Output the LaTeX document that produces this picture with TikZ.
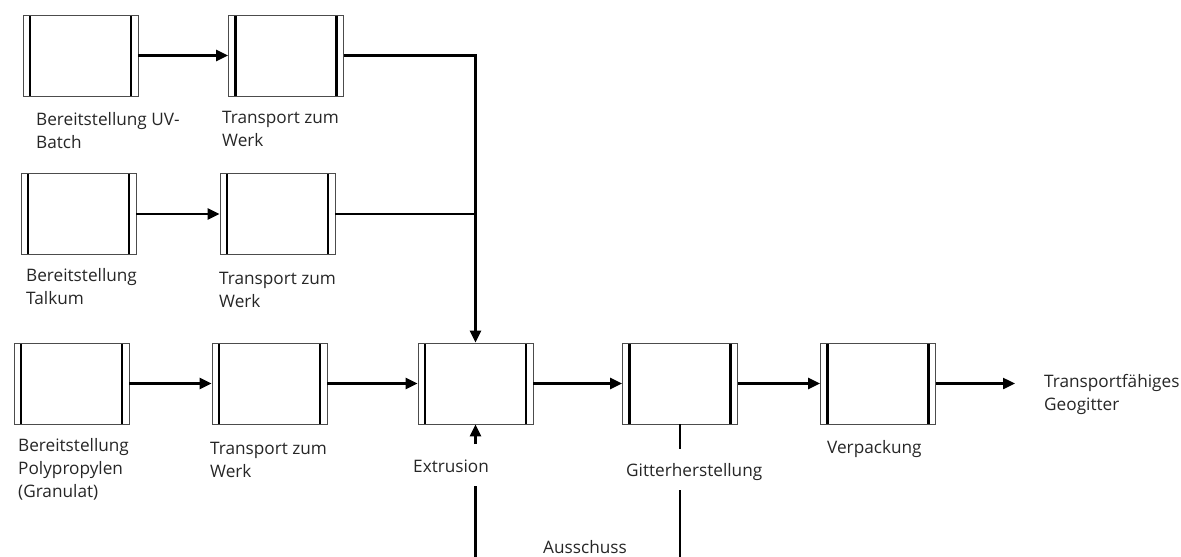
\documentclass[tikz,border=0pt]{standalone}
\usepackage{fontspec}
\setmainfont{Open Sans}
\usetikzlibrary{arrows.meta}
\tikzset{
  procbox/.style={rectangle, draw=black!70, line width=0.8pt, minimum width=115pt, minimum height=81pt, inner sep=0pt,
    path picture={
      \draw[line width=2.2pt,black] ([xshift=7pt]path picture bounding box.north west) -- ([xshift=7pt]path picture bounding box.south west);
      \draw[line width=2.2pt,black] ([xshift=-7pt]path picture bounding box.north east) -- ([xshift=-7pt]path picture bounding box.south east);
    }},
  lbl/.style={anchor=base west, align=left, inner sep=0pt, font=\fontsize{17.2}{23}\selectfont, text=black!85},
  conn/.style={line width=2.4pt, black},
  arr/.style={conn, -{Triangle[length=12pt,width=11pt]}}
}
\begin{document}
\begin{tikzpicture}[x=1pt,y=-1pt]
\useasboundingbox (0,0) rectangle (1181,557);
% boxes
\node[procbox] (b1) at (80.5,55.5) {};
\node[procbox] (b2) at (286,55.5) {};
\node[procbox] (b3) at (78.5,214) {};
\node[procbox] (b4) at (277.5,214) {};
\node[procbox] (b5) at (71.5,383.5) {};
\node[procbox] (b6) at (269.5,383.5) {};
\node[procbox] (ext) at (475.5,383.5) {};
\node[procbox] (git) at (680,383.5) {};
\node[procbox] (ver) at (878,383.5) {};
% labels (base = last line)
\node[lbl] (l1) at (36,148) {Bereitstellung UV-\\Batch};
\node[lbl] (l2) at (222,146) {Transport zum\\Werk};
\node[lbl] (l3) at (26,304) {Bereitstellung\\Talkum};
\node[lbl] (l4) at (219,307) {Transport zum\\Werk};
\node[lbl] (l5) at (18,497) {Bereitstellung\\Polypropylen\\(Granulat)};
\node[lbl] (l6) at (210,477) {Transport zum\\Werk};
\node[lbl] (l7) at (413,472) {Extrusion};
\node[lbl] (l8) at (626,476) {Gitterherstellung};
\node[lbl] (l9) at (827,453) {Verpackung};
\node[lbl] (l10) at (1044,410) {Transportfähiges\\Geogitter};
\node[lbl] (l11) at (543,553) {Ausschuss};
% coordinates
\coordinate (j1) at (ext.center |- b2.east);
\coordinate (j2) at (ext.center |- b4.east);
\coordinate (out) at (1015,383.5);
\coordinate (e1) at (475.5,444);
\coordinate (e2) at (475.5,486);
\coordinate (e3) at (475.5,557);
\coordinate (g1) at (680,449);
\coordinate (g2) at (680,490);
\coordinate (g3) at (680,557);
% connectors
\draw[arr] (b1.east) -- (b2.west);
\draw[arr] (b3.east) -- (b4.west);
\draw[arr] (b5.east) -- (b6.west);
\draw[arr] (b6.east) -- (ext.west);
\draw[arr] (ext.east) -- (git.west);
\draw[arr] (git.east) -- (ver.west);
\draw[arr] (ver.east) -- (out);
\draw[conn] (b2.east) -- (j1) -- (j2);
\draw[conn] (b4.east) -- (j2);
\draw[arr] (j2) -- (ext.north);
\draw[arr] (e1) -- (ext.south);
\draw[conn] (e2) -- (e3);
\draw[conn] (git.south) -- (g1);
\draw[conn] (g2) -- (g3);
\end{tikzpicture}
\end{document}
